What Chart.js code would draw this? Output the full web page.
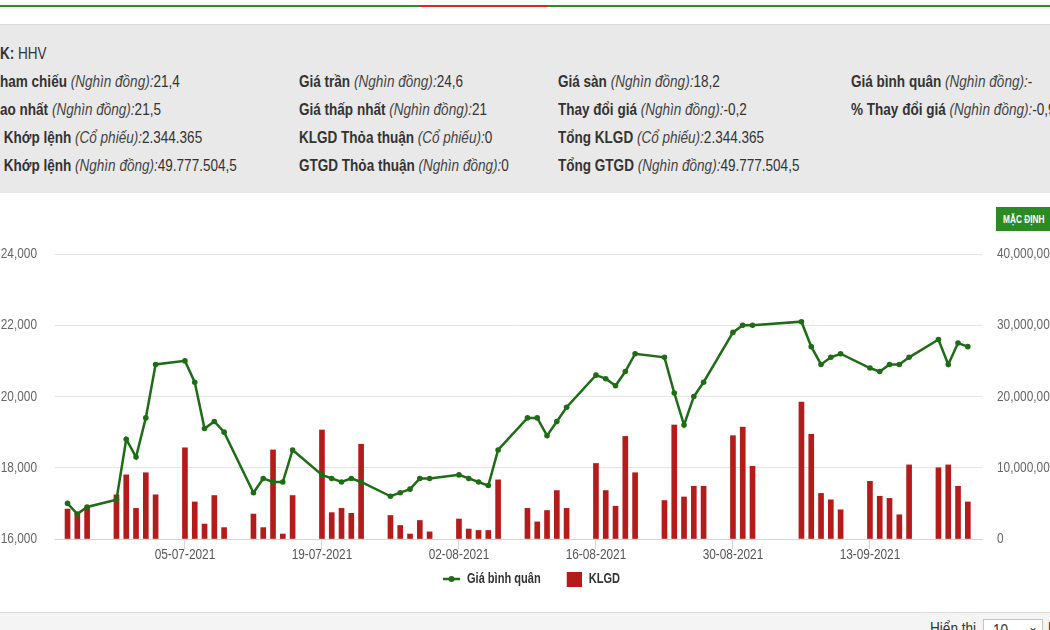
<!DOCTYPE html>
<html><head><meta charset="utf-8">
<script src="https://cdn.jsdelivr.net/npm/chart.js@4.4.0/dist/chart.umd.min.js"></script>
<style>
html,body{margin:0;padding:0;width:1050px;height:630px;overflow:hidden;background:#fff;font-family:"Liberation Sans",Arial,sans-serif;}
.topline{position:absolute;left:0;top:5px;width:1050px;height:2px;background:#2e8b26;}
.topline .red{position:absolute;left:419px;top:0;width:128px;height:2px;background:#d8262b;z-index:2;}
.info{position:absolute;left:0;top:24px;width:1050px;height:168px;background:#e9e9e9;border-top:1px solid #dadada;overflow:hidden;}
.row{position:absolute;white-space:nowrap;font-size:16.5px;line-height:20px;color:#333;transform:scaleX(0.82);transform-origin:0 0;}
.row b{font-weight:bold;}
.row i{color:#444;}
.pre{position:absolute;right:100%;top:0;}
.chartbox{position:absolute;left:0;top:193px;width:1050px;height:417px;}
.btn{position:absolute;left:996px;top:207px;width:70px;height:24px;background:#2b8a23;}
.btn span{position:absolute;left:7px;top:0;color:#fff;font-weight:bold;font-size:11.5px;line-height:24px;white-space:nowrap;transform:scaleX(0.72);transform-origin:0 0;}
.bottom{position:absolute;left:0;top:612px;width:1050px;height:18px;background:#f4f4f4;border-top:1px solid #dcdcdc;}
.show{position:absolute;left:930px;top:7px;font-size:16px;color:#333;white-space:nowrap;transform:scaleX(0.85);transform-origin:0 0;}
.sel{position:absolute;left:983px;top:6px;width:60px;height:22px;border:1px solid #c4c4c4;background:#fff;box-sizing:border-box;}
.sel .v{position:absolute;left:9px;top:1px;font-size:16px;color:#333;line-height:20px;transform:scaleX(0.85);transform-origin:0 0;}
.sel .a{position:absolute;left:44px;top:0px;font-size:12px;color:#333;}
.after{position:absolute;left:1048px;top:7px;font-size:16px;color:#333;white-space:nowrap;}
</style></head>
<body>
<div class="topline"><div class="red"></div></div>
<div class="info">
  <div class="row" style="left:0;top:18px"><span class="pre"><b>Mã C</b></span><b>K:</b> HHV</div>
  <div class="row" style="left:0;top:46px"><span class="pre"><b>Giá t</b></span><b>ham chiếu</b> <i>(Nghìn đồng):</i>21,4</div>
  <div class="row" style="left:0;top:74px"><span class="pre"><b>Giá c</b></span><b>ao nhất</b> <i>(Nghìn đồng):</i>21,5</div>
  <div class="row" style="left:0;top:102px"><span class="pre"><b>KLGD</b></span><b>&nbsp;Khớp lệnh</b> <i>(Cổ phiếu):</i>2.344.365</div>
  <div class="row" style="left:0;top:130px"><span class="pre"><b>GTGD</b></span><b>&nbsp;Khớp lệnh</b> <i>(Nghìn đồng):</i>49.777.504,5</div>

  <div class="row" style="left:299px;top:46px"><b>Giá trần</b> <i>(Nghìn đồng):</i>24,6</div>
  <div class="row" style="left:299px;top:74px"><b>Giá thấp nhất</b> <i>(Nghìn đồng):</i>21</div>
  <div class="row" style="left:299px;top:102px"><b>KLGD Thỏa thuận</b> <i>(Cổ phiếu):</i>0</div>
  <div class="row" style="left:299px;top:130px"><b>GTGD Thỏa thuận</b> <i>(Nghìn đồng):</i>0</div>

  <div class="row" style="left:558px;top:46px"><b>Giá sàn</b> <i>(Nghìn đồng):</i>18,2</div>
  <div class="row" style="left:558px;top:74px"><b>Thay đổi giá</b> <i>(Nghìn đồng):</i>-0,2</div>
  <div class="row" style="left:558px;top:102px"><b>Tổng KLGD</b> <i>(Cổ phiếu):</i>2.344.365</div>
  <div class="row" style="left:558px;top:130px"><b>Tổng GTGD</b> <i>(Nghìn đồng):</i>49.777.504,5</div>

  <div class="row" style="left:851px;top:46px"><b>Giá bình quân</b> <i>(Nghìn đồng):</i>-</div>
  <div class="row" style="left:851px;top:74px"><b>% Thay đổi giá</b> <i>(Nghìn đồng):</i>-0,93</div>
</div>
<div class="chartbox"><canvas id="c" width="1050" height="417"></canvas></div>
<div class="btn"><span>MẶC ĐỊNH</span></div>
<div class="bottom">
  <div class="show">Hiển thị</div>
  <div class="sel"><span class="v">10</span><span class="a">&#8964;</span></div>
  <div class="after">bản ghi</div>
</div>
<script>
// ---- data ----
const dates = [
 '2021-06-23','2021-06-24','2021-06-25','2021-06-28','2021-06-29','2021-06-30','2021-07-01','2021-07-02',
 '2021-07-05','2021-07-06','2021-07-07','2021-07-08','2021-07-09',
 '2021-07-12','2021-07-13','2021-07-14','2021-07-15','2021-07-16',
 '2021-07-19','2021-07-20','2021-07-21','2021-07-22','2021-07-23',
 '2021-07-26','2021-07-27','2021-07-28','2021-07-29','2021-07-30',
 '2021-08-02','2021-08-03','2021-08-04','2021-08-05','2021-08-06',
 '2021-08-09','2021-08-10','2021-08-11','2021-08-12','2021-08-13',
 '2021-08-16','2021-08-17','2021-08-18','2021-08-19','2021-08-20',
 '2021-08-23','2021-08-24','2021-08-25','2021-08-26','2021-08-27',
 '2021-08-30','2021-08-31','2021-09-01',
 '2021-09-06','2021-09-07','2021-09-08','2021-09-09','2021-09-10',
 '2021-09-13','2021-09-14','2021-09-15','2021-09-16','2021-09-17',
 '2021-09-20','2021-09-21','2021-09-22','2021-09-23'
];
const avgPrice = [
 17000,16700,16900,17100,18800,18300,19400,20900,
 21000,20400,19100,19300,19000,
 17300,17700,17600,17600,18500,
 17800,17700,17600,17700,17600,
 17200,17300,17400,17700,17700,
 17800,17700,17600,17500,18500,
 19400,19400,18900,19300,19700,
 20600,20500,20300,20700,21200,
 21100,20100,19200,20000,20400,
 21800,22000,22000,
 22100,21400,20900,21100,21200,
 20800,20700,20900,20900,21100,
 21600,20900,21500,21400
];
const volume = [
 4200000,3600000,4500000,6200000,9000000,4300000,9300000,6200000,
 12800000,5200000,2100000,6100000,1600000,
 3500000,1600000,12500000,700000,6100000,
 15300000,3700000,4300000,3600000,13300000,
 3300000,1900000,700000,2600000,1000000,
 2800000,1400000,1200000,1200000,8300000,
 4300000,2400000,4000000,6800000,4300000,
 10600000,6800000,4600000,14400000,9300000,
 5400000,16000000,5900000,7400000,7400000,
 14500000,15700000,10200000,
 19200000,14700000,6400000,5500000,4100000,
 8100000,6000000,5700000,3400000,10400000,
 10000000,10400000,7400000,5200000
];
const tickDates = ['05-07-2021','19-07-2021','02-08-2021','16-08-2021','30-08-2021','13-09-2021'];
const priceTicks = [16000,18000,20000,22000,24000];
const volumeTicks = [0,10000000,20000000,30000000,40000000];
const seriesNames = ['Giá bình quân','KLGD'];

// ---- helpers ----
const BASE = Date.UTC(2021,6,5);
function dayFromIso(s){const p=s.split('-').map(Number);return (Date.UTC(p[0],p[1]-1,p[2])-BASE)/86400000;}
function dayFromDmy(s){const p=s.split('-').map(Number);return (Date.UTC(p[2],p[1]-1,p[0])-BASE)/86400000;}
const GREEN='#1e6c16', RED='#b41c1b';

// condensed text rendering on the chart canvas (reference uses a condensed face)
const canvas=document.getElementById('c');
const c2d=canvas.getContext('2d');
const SX=0.79;
const origFill=c2d.fillText.bind(c2d), origMeasure=c2d.measureText.bind(c2d);
c2d.fillText=function(t,x,y){this.save();this.translate(x,y);this.scale(SX,1);origFill(t,0,0);this.restore();};
c2d.measureText=function(t){const m=origMeasure(t);return {width:m.width*SX,actualBoundingBoxAscent:m.actualBoundingBoxAscent,actualBoundingBoxDescent:m.actualBoundingBoxDescent,actualBoundingBoxLeft:m.actualBoundingBoxLeft*SX,actualBoundingBoxRight:m.actualBoundingBoxRight*SX};};

// legend icons (box width 36; mark drawn at the right end)
const lineIcon=document.createElement('canvas');lineIcon.width=36;lineIcon.height=8;
(function(){const g=lineIcon.getContext('2d');g.strokeStyle=GREEN;g.lineWidth=2.5;g.beginPath();g.moveTo(19,4);g.lineTo(36,4);g.stroke();g.fillStyle=GREEN;g.beginPath();g.arc(27.5,4,3,0,Math.PI*2);g.fill();})();
const boxIcon=document.createElement('canvas');boxIcon.width=36;boxIcon.height=15;
(function(){const g=boxIcon.getContext('2d');g.fillStyle=RED;g.fillRect(21,0,15,15);})();

Chart.defaults.font.family='"Liberation Sans",Arial,sans-serif';
Chart.defaults.font.size=15;
Chart.defaults.color='#666';

new Chart(canvas,{
  type:'line',
  data:{datasets:[
    {type:'line',label:seriesNames[0],data:dates.map((d,i)=>({x:dayFromIso(d),y:avgPrice[i]})),
     yAxisID:'y',borderColor:GREEN,backgroundColor:GREEN,borderWidth:2.5,tension:0,
     pointRadius:2.8,pointBorderWidth:0,pointBackgroundColor:GREEN,order:0},
    {type:'bar',label:seriesNames[1],data:dates.map((d,i)=>({x:dayFromIso(d),y:volume[i]})),
     yAxisID:'y1',backgroundColor:RED,borderWidth:0,barThickness:5,order:1}
  ]},
  options:{
    responsive:false,animation:false,devicePixelRatio:1,
    layout:{padding:{top:61,left:-6,right:0,bottom:14}},
    plugins:{
      tooltip:{enabled:false},
      legend:{position:'bottom',align:'center',
        labels:{usePointStyle:true,pointStyleWidth:36,padding:5,color:'#333',
          font:{size:14,weight:'bold'},
          generateLabels:(chart)=>{
            const items=Chart.defaults.plugins.legend.labels.generateLabels(chart);
            items.forEach(it=>{it.pointStyle=(it.datasetIndex===0)?lineIcon:boxIcon;it.fontColor='#333';});
            return items;
          }}}
    },
    scales:{
      x:{type:'linear',min:-13.28,max:81.45,offset:false,
        afterBuildTicks:(s)=>{s.ticks=tickDates.map(t=>({value:dayFromDmy(t)}));},
        afterFit:(s)=>{s.height=28;},
        ticks:{callback:(v,i)=>tickDates[i],maxRotation:0,autoSkip:false,padding:-3,color:'#555'},
        grid:{drawOnChartArea:false,drawTicks:true,tickLength:10,color:'#ccd6eb',offset:false},
        border:{display:true,color:'#ccd6eb',width:1}},
      y:{type:'linear',position:'left',min:16000,max:24000,
        afterBuildTicks:(s)=>{s.ticks=priceTicks.map(v=>({value:v}));},
        afterFit:(s)=>{s.width=61;},
        ticks:{padding:18,callback:(v)=>v.toLocaleString('en-US'),color:'#666'},
        grid:{color:'#e4e4e4',drawTicks:false},border:{display:false}},
      y1:{type:'linear',position:'right',min:0,max:40000000,
        afterBuildTicks:(s)=>{s.ticks=volumeTicks.map(v=>({value:v}));},
        afterFit:(s)=>{s.width=68;},
        ticks:{padding:15,callback:(v)=>v.toLocaleString('en-US'),color:'#666'},
        grid:{drawOnChartArea:false,drawTicks:false},border:{display:false}}
    }
  }
});
</script>
</body></html>
